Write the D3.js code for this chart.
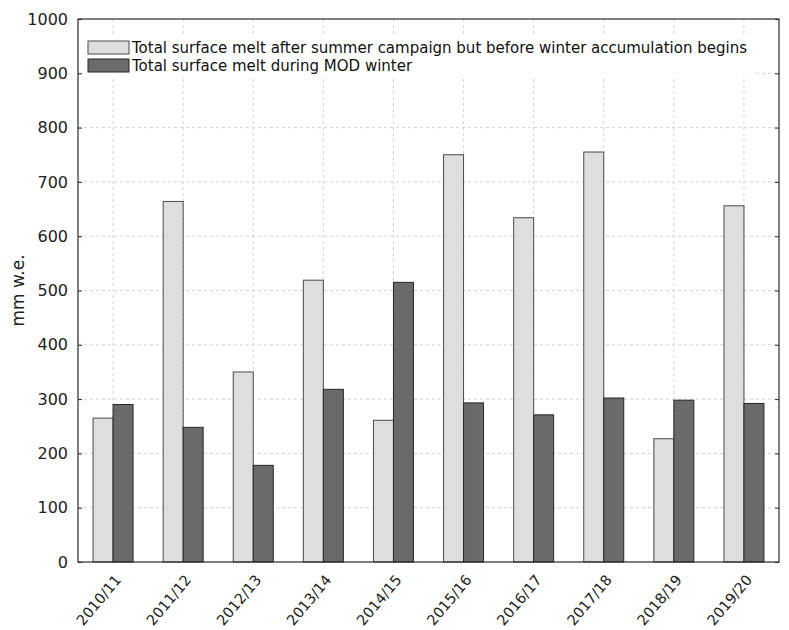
<!DOCTYPE html>
<html>
<head>
<meta charset="utf-8">
<script src="https://cdn.jsdelivr.net/npm/d3@7"></script>
<style>
  body { margin: 0; background: #fff; }
  svg { display: block; font-family: "DejaVu Sans", sans-serif; }
</style>
</head>
<body>
<svg id="chart" width="789" height="630"></svg>
<script>
// Seasons (hydrological years)
const seasons = ["2010/11", "2011/12", "2012/13", "2013/14", "2014/15",
                 "2015/16", "2016/17", "2017/18", "2018/19", "2019/20"];
// Melt after summer campaign, before winter accumulation (mm w.e.)
const meltAfterSummer = [265, 664, 350, 519, 261, 750, 634, 755, 227, 656];
// Melt during MOD winter (mm w.e.)
const meltDuringWinter = [290, 248, 178, 318, 515, 293, 271, 302, 298, 292];
const yTicks = [0, 100, 200, 300, 400, 500, 600, 700, 800, 900, 1000];
const seriesNames = [
  "Total surface melt after summer campaign but before winter accumulation begins",
  "Total surface melt during MOD winter"
];
const seriesColors = ["#dedede", "#6a6a6a"];
const seriesStrokes = ["#4a4a4a", "#262626"];

const margin = { left: 78, right: 10, top: 19, bottom: 68 };
const width = 779 - margin.left;
const height = 562 - margin.top;

const svg = d3.select("#chart");
const g = svg.append("g").attr("transform", `translate(${margin.left},${margin.top})`);

const x = d3.scaleBand().domain(seasons).range([0, width]).paddingInner(0).paddingOuter(0);
const x1 = d3.scaleBand().domain([0, 1]).range([x.bandwidth() / 2 - 20, x.bandwidth() / 2 + 20]);
const y = d3.scaleLinear().domain([0, 1000]).range([height, 0]);

// Grid
const gridColor = "#d4d4d4";
g.append("g").selectAll("line").data(yTicks.slice(1, -1)).join("line")
  .attr("x1", 0).attr("x2", width)
  .attr("y1", d => y(d)).attr("y2", d => y(d))
  .attr("stroke", gridColor).attr("stroke-width", 1).attr("stroke-dasharray", "3,3");
g.append("g").selectAll("line").data(seasons).join("line")
  .attr("x1", d => x(d) + x.bandwidth() / 2).attr("x2", d => x(d) + x.bandwidth() / 2)
  .attr("y1", 0).attr("y2", height)
  .attr("stroke", gridColor).attr("stroke-width", 1).attr("stroke-dasharray", "3,3");

// Bars
const rows = seasons.map((s, i) => ({ season: s, vals: [meltAfterSummer[i], meltDuringWinter[i]] }));
const groups = g.append("g").selectAll("g").data(rows).join("g")
  .attr("transform", d => `translate(${x(d.season)},0)`);
groups.selectAll("rect").data(d => d.vals.map((v, k) => ({ v, k }))).join("rect")
  .attr("x", d => x1(d.k))
  .attr("width", x1.bandwidth())
  .attr("y", d => y(d.v))
  .attr("height", d => y(0) - y(d.v))
  .attr("fill", d => seriesColors[d.k])
  .attr("stroke", d => seriesStrokes[d.k])
  .attr("stroke-width", 1);

// Frame
g.append("rect").attr("x", 0).attr("y", 0).attr("width", width).attr("height", height)
  .attr("fill", "none").attr("stroke", "#2b2b2b").attr("stroke-width", 1.2);

// Y axis (ticks pointing inward)
const yAxis = g.append("g")
  .call(d3.axisLeft(y).tickValues(yTicks).tickSize(-4).tickPadding(10).tickFormat(d3.format("d")));
yAxis.select(".domain").remove();
yAxis.selectAll("line").attr("stroke", "#2b2b2b");
yAxis.selectAll("text").attr("font-size", 16).attr("fill", "#222")
  .attr("font-family", "DejaVu Sans, sans-serif");

const yAxisR = g.append("g").attr("transform", `translate(${width},0)`)
  .call(d3.axisRight(y).tickValues(yTicks).tickSize(-4).tickFormat(""));
yAxisR.select(".domain").remove();
yAxisR.selectAll("line").attr("stroke", "#2b2b2b");

// X axis labels
const xAxis = g.append("g").attr("transform", `translate(0,${height})`)
  .call(d3.axisBottom(x).tickSize(0).tickPadding(0));
xAxis.select(".domain").remove();
xAxis.selectAll("text")
  .attr("font-size", 14.5).attr("fill", "#222")
  .attr("font-family", "DejaVu Sans, sans-serif")
  .attr("text-anchor", "end")
  .attr("dy", "0.35em")
  .attr("transform", "translate(5,15) rotate(-50)");

// Y axis title
svg.append("text")
  .attr("transform", `translate(24,${margin.top + height / 2}) rotate(-90)`)
  .attr("text-anchor", "middle")
  .attr("font-size", 17).attr("fill", "#222")
  .text("mm w.e.");

// Legend
const legend = svg.append("g").attr("transform", "translate(84,37)");
legend.append("rect").attr("x", 0).attr("y", 0).attr("width", 672).attr("height", 40).attr("fill", "#fff");
seriesNames.forEach((name, k) => {
  const row = legend.append("g").attr("transform", `translate(4,${4 + k * 18})`);
  row.append("rect").attr("x", 0).attr("y", 0).attr("width", 41).attr("height", 13)
    .attr("fill", seriesColors[k]).attr("stroke", seriesStrokes[k]).attr("stroke-width", 1);
  row.append("text").attr("x", 44).attr("y", 12)
    .attr("font-size", 15).attr("fill", "#111").text(name);
});
</script>
</body>
</html>
